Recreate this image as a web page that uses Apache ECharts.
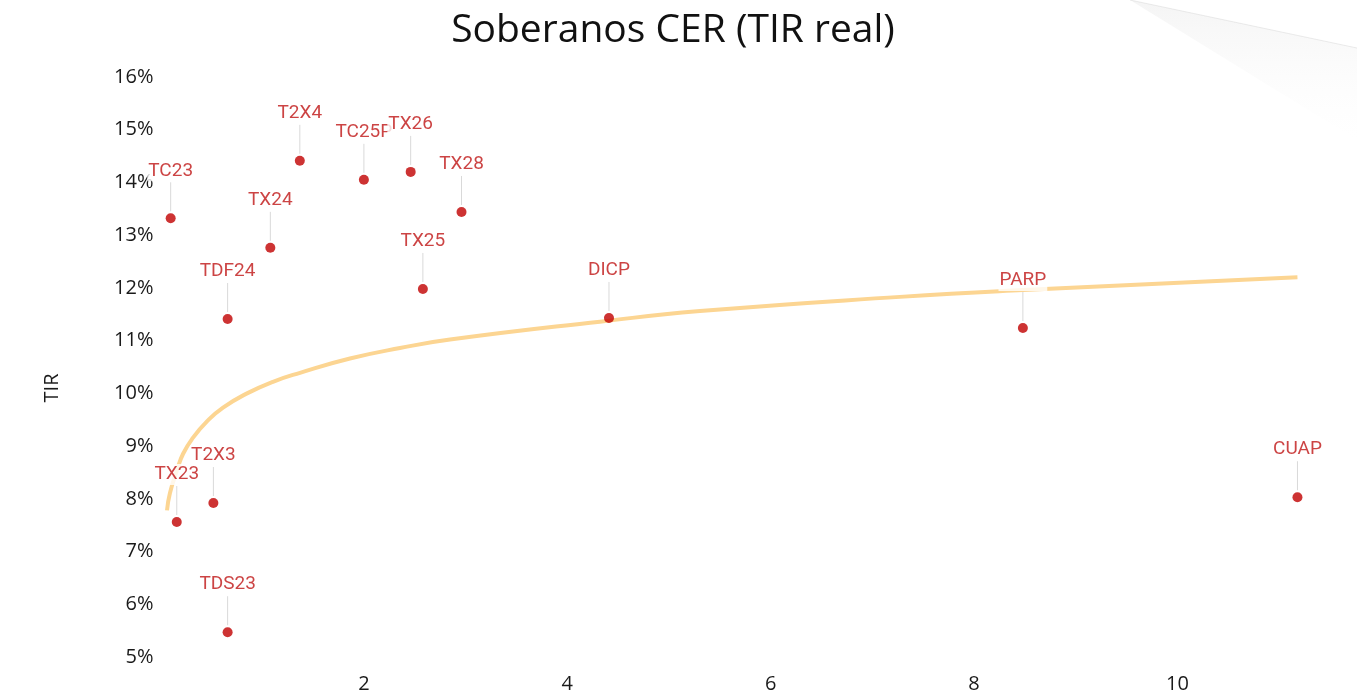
<!DOCTYPE html>
<html>
<head>
<meta charset="utf-8">
<script src="https://cdn.jsdelivr.net/npm/echarts@6/dist/echarts.min.js"></script>
<style>html,body{margin:0;padding:0;background:#fff;}#c{width:1357px;height:699px;}</style>
</head>
<body>
<div id="c"></div>
<script>
// Bond names, duration (x) and real IRR in % (y)
var bonds = ['TC23','TX23','T2X3','TDS23','TDF24','TX24','T2X4','TC25P','TX26','TX25','TX28','DICP','PARP','CUAP'];
var duration = [0.10, 0.16, 0.52, 0.66, 0.66, 1.08, 1.37, 2.00, 2.46, 2.58, 2.96, 4.41, 8.48, 11.18];
var tir = [13.32, 7.56, 7.92, 5.47, 11.41, 12.76, 14.41, 14.05, 14.20, 11.98, 13.44, 11.43, 11.24, 8.03];
// Trend curve
var trendX = [0.064, 0.093, 0.162, 0.221, 0.320, 0.457, 0.615, 0.851, 1.106, 1.372, 1.863, 2.355, 2.847, 4.321, 5.305, 7.271, 8.48, 11.18];
var trendY = [7.78, 8.11, 8.54, 8.85, 9.16, 9.47, 9.73, 10.00, 10.22, 10.39, 10.66, 10.86, 11.02, 11.36, 11.56, 11.83, 11.96, 12.20];
var yTicks = [5, 16, 1];
var xTicks = [0, 11.5, 2];

var chart = echarts.init(document.getElementById('c'));
var pts = bonds.map(function (n, i) { return { name: n, value: [duration[i], tir[i]] }; });
var trend = trendX.map(function (x, i) { return [x, trendY[i]]; });

chart.setOption({
  backgroundColor: '#ffffff',
  animation: false,
  graphic: [{
    type: 'polygon',
    silent: true,
    z: -10,
    shape: { points: [[1130, 0], [1357, 48], [1357, 140]] },
    style: {
      fill: new echarts.graphic.LinearGradient(0, 0, 0, 1, [
        { offset: 0, color: 'rgba(225,225,225,0.35)' },
        { offset: 1, color: 'rgba(245,245,245,0.0)' }
      ])
    }
  }, {
    type: 'line',
    silent: true,
    z: -9,
    shape: { x1: 1130, y1: 0, x2: 1357, y2: 48 },
    style: { stroke: 'rgba(200,200,200,0.35)', lineWidth: 1 }
  }],
  title: {
    text: 'Soberanos CER (TIR real)',
    left: 668,
    textAlign: 'center',
    top: 6,
    textStyle: { fontFamily: 'Open Sans', fontSize: 39, fontWeight: 'normal', color: '#111' }
  },
  grid: { left: 160.5, right: 27, top: 77, bottom: 42 },
  xAxis: {
    type: 'value',
    min: xTicks[0], max: xTicks[1], interval: xTicks[2],
    axisLine: { show: false }, axisTick: { show: false }, splitLine: { show: false },
    axisLabel: { showMinLabel: false, showMaxLabel: false, margin: 17,
      fontFamily: 'Open Sans', fontSize: 20, color: '#1a1a1a' }
  },
  yAxis: {
    type: 'value',
    min: yTicks[0], max: yTicks[1], interval: yTicks[2],
    name: 'TIR', nameLocation: 'middle', nameGap: 98, nameRotate: 90,
    nameTextStyle: { fontFamily: 'Open Sans', fontSize: 20, color: '#1a1a1a', padding: [0, 42, 0, 0] },
    axisLine: { show: false }, axisTick: { show: false }, splitLine: { show: false },
    axisLabel: { formatter: '{value}%', margin: 7, fontFamily: 'Open Sans', fontSize: 20, color: '#1a1a1a' }
  },
  series: [
    {
      type: 'line',
      data: trend,
      smooth: 0.5,
      showSymbol: false,
      z: 1,
      lineStyle: { color: '#fcd592', width: 4 }
    },
    {
      type: 'custom',
      z: 2,
      data: pts.map(function (p) { return p.value; }),
      renderItem: function (params, api) {
        var c = api.coord([api.value(0), api.value(1)]);
        return {
          type: 'line',
          shape: { x1: c[0], y1: c[1] - 7, x2: c[0], y2: c[1] - 36 },
          style: { stroke: '#d9d9d9', lineWidth: 1 }
        };
      }
    },
    {
      type: 'scatter',
      z: 3,
      data: pts,
      symbolSize: 10,
      itemStyle: { color: '#c00000' },
      label: {
        show: true,
        position: 'top',
        distance: 32,
        formatter: '{b}',
        fontFamily: 'Roboto',
        fontSize: 19,
        lineHeight: 21,
        color: '#bf1515',
        backgroundColor: '#ffffff',
        padding: [0, 1]
      }
    }
  ]
});
</script>
</body>
</html>
